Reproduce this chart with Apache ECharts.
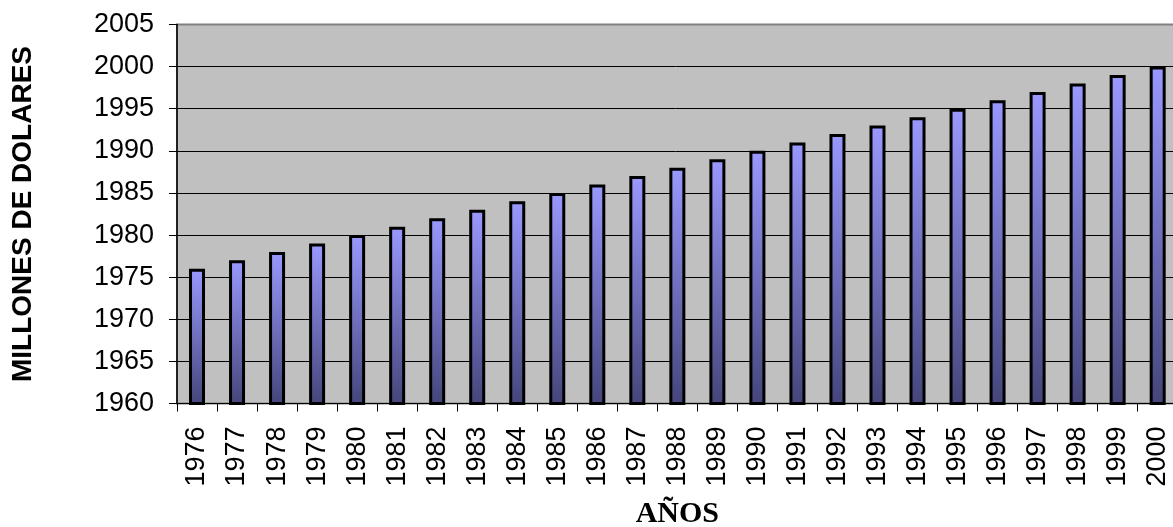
<!DOCTYPE html>
<html>
<head>
<meta charset="utf-8">
<script src="https://cdn.jsdelivr.net/npm/echarts@6/dist/echarts.min.js"></script>
<style>
  html, body { margin: 0; padding: 0; background: #ffffff; }
  #chart { width: 1173px; height: 527px; }
</style>
</head>
<body>
<div id="chart"></div>
<script>
// Años y valores (millones de dólares)
const years = ['1976','1977','1978','1979','1980','1981','1982','1983','1984','1985',
               '1986','1987','1988','1989','1990','1991','1992','1993','1994','1995',
               '1996','1997','1998','1999','2000'];
const values = [1976,1977,1978,1979,1980,1981,1982,1983,1984,1985,
                1986,1987,1988,1989,1990,1991,1992,1993,1994,1995,
                1996,1997,1998,1999,2000];
const yMin = 1960, yMax = 2005, yStep = 5;

const chart = echarts.init(document.getElementById('chart'));
chart.setOption({
  animation: false,
  grid: {
    left: 177, top: 24.5, right: -4.7, bottom: 123.5,
    containLabel: false,
    outerBoundsMode: 'none',
    show: true,
    backgroundColor: '#c0c0c0',
    borderColor: '#808080',
    borderWidth: 2
  },
  xAxis: {
    type: 'category',
    data: years,
    boundaryGap: true,
    name: 'AÑOS',
    nameLocation: 'middle',
    nameGap: 96,
    nameMoveOverlap: false,
    nameTextStyle: { fontFamily: 'Liberation Serif', fontWeight: 'bold', fontSize: 30, color: '#000' },
    axisLine: { lineStyle: { color: '#000', width: 1 } },
    axisTick: { show: true, inside: false, length: 8, alignWithLabel: false, lineStyle: { color: '#000' } },
    axisLabel: {
      rotate: 90, margin: 23, interval: 0, overflow: 'none', hideOverlap: false,
      fontFamily: 'Liberation Sans', fontSize: 27, color: '#000'
    },
    splitLine: { show: false }
  },
  yAxis: {
    type: 'value',
    min: yMin, max: yMax, interval: yStep,
    name: 'MILLONES DE DOLARES',
    nameLocation: 'middle',
    nameGap: 140,
    nameMoveOverlap: false,
    nameTextStyle: { fontFamily: 'Liberation Sans', fontWeight: 'bold', fontSize: 28, color: '#000' },
    axisLine: { show: true, lineStyle: { color: '#000', width: 1.5 } },
    axisTick: { show: true, inside: false, length: 8, lineStyle: { color: '#000' } },
    axisLabel: {
      margin: 23, fontFamily: 'Liberation Sans', fontSize: 27, color: '#000',
      formatter: v => String(v)
    },
    splitLine: {
      show: true,
      lineStyle: { color: ['#000','#000','#000','#000','#000','#000','#000','#000','#000','#808080'], width: 1 }
    }
  },
  series: [{
    type: 'bar',
    data: values,
    barWidth: 16,
    itemStyle: {
      borderColor: '#000',
      borderWidth: 3,
      color: new echarts.graphic.LinearGradient(0, 0, 0, 1, [
        { offset: 0, color: '#9999ff' },
        { offset: 1, color: '#45457a' }
      ])
    }
  }]
});
</script>
</body>
</html>
